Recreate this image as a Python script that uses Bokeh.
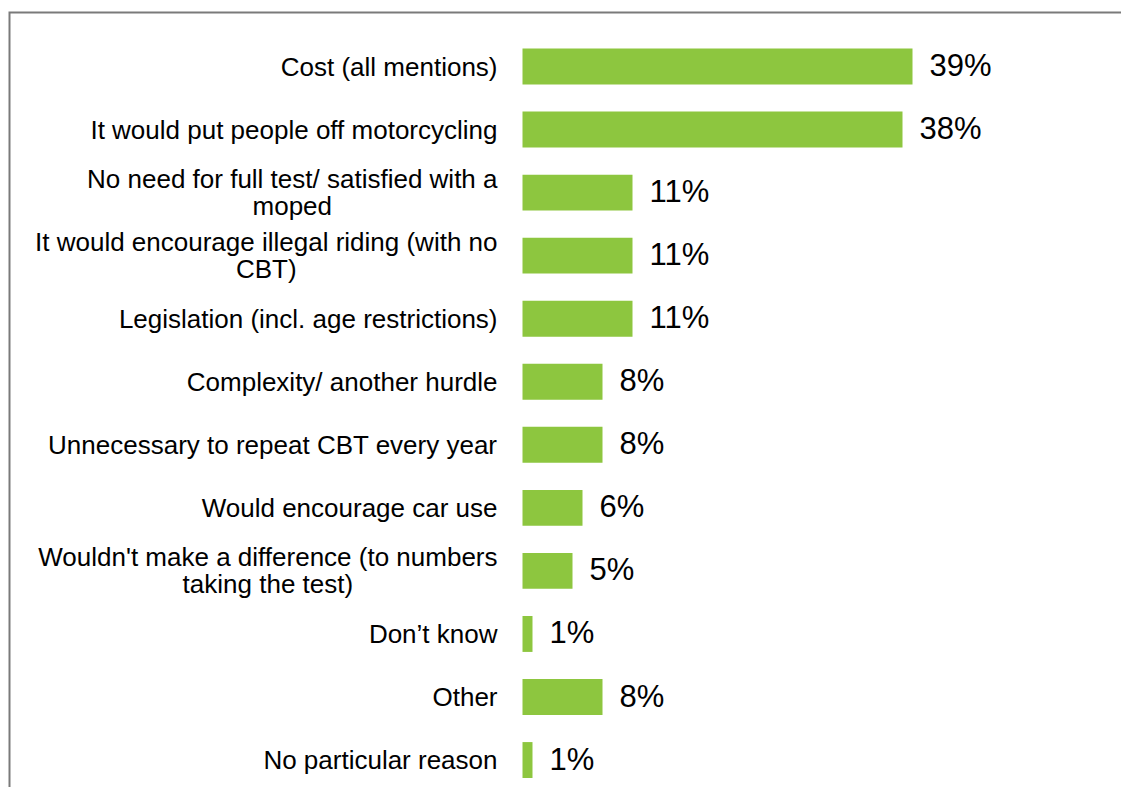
import numpy as np
from bokeh.plotting import figure
from bokeh.models import ColumnDataSource, Range1d
from bokeh.core.properties import value
from bokeh.embed import file_html
from bokeh.resources import INLINE

categories = [
    "Cost (all mentions)",
    "It would put people off motorcycling",
    "No need for full test/ satisfied with a\nmoped",
    "It would encourage illegal riding (with no\nCBT)",
    "Legislation (incl. age restrictions)",
    "Complexity/ another hurdle",
    "Unnecessary to repeat CBT every year",
    "Would encourage car use",
    "Wouldn't make a difference (to numbers\ntaking the test)",
    "Don\u2019t know",
    "Other",
    "No particular reason",
]
values = [39, 38, 11, 11, 11, 8, 8, 6, 5, 1, 8, 1]

BAR = "#8DC63F"
FONT = "Liberation Sans"

W, H = 1121, 787
px_per_unit_x = 10.0
zero_px = 522.0
px_per_row = 63.05
top_center_px = 66.0

pos = np.arange(len(categories))
src = ColumnDataSource(dict(
    y=pos,
    v=values,
    cat=categories,
    lab=[f"{v}%" for v in values],
    zero=np.zeros(len(values)),
))

x0 = -zero_px / px_per_unit_x
x1 = x0 + W / px_per_unit_x
ytop = -top_center_px / px_per_row
ybot = ytop + H / px_per_row

p = figure(width=W, height=H, output_backend="svg", toolbar_location=None,
           x_range=Range1d(x0, x1), y_range=Range1d(ybot, ytop),
           min_border=0, min_border_left=0, min_border_right=0,
           min_border_top=0, min_border_bottom=0)
p.axis.visible = False
p.grid.visible = False
p.outline_line_color = None
p.background_fill_color = "white"
p.border_fill_color = "white"

p.hbar(y="y", left=0, right="v", height=0.57, source=src,
       fill_color=BAR, line_color=None)

p.text(x="v", y="y", text="lab", source=src, x_offset=17, y_offset=-1,
       text_font=value(FONT), text_font_size="31px", text_color="#000000",
       text_align="left", text_baseline="middle")

p.text(x="zero", y="y", text="cat", source=src, x_offset=-25,
       anchor="center_right", text_align="center", text_baseline="middle",
       text_line_height=0.9,
       text_font=value(FONT), text_font_size="26px", text_color="#000000")

# frame border (left and top edges only, as in the cropped original)
cx = x0 + 9 / px_per_unit_x
cy = ytop + 12 / px_per_row
p.line(x=[cx, cx, x1 + 5], y=[ybot + 5, cy, cy],
       line_color="#7a7a7a", line_width=2, line_join="miter")

open("out.html", "w").write(file_html(p, INLINE))
